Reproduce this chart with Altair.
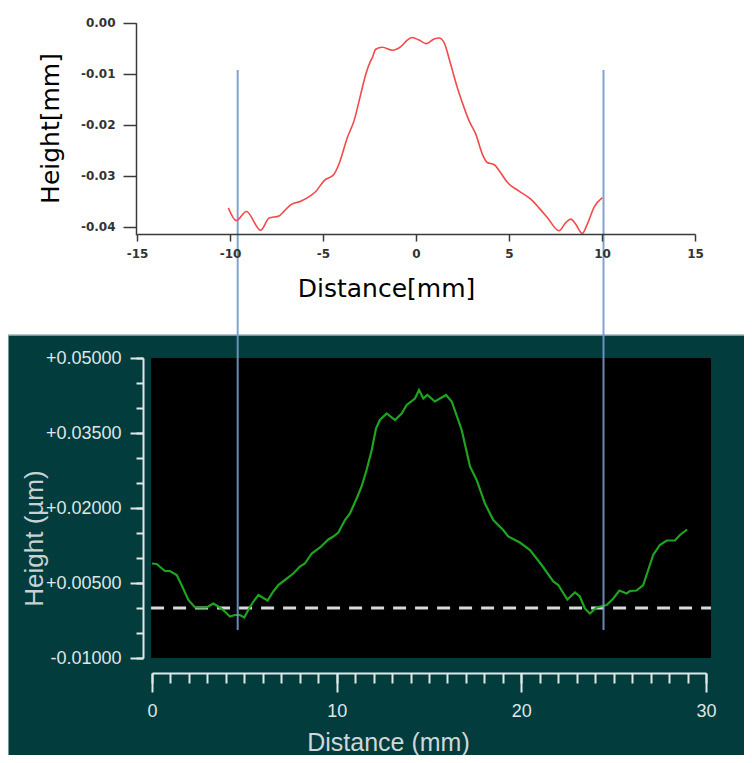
import altair as alt
import pandas as pd

# ---------------- data ----------------
# upper profile (Distance [mm], Height [mm])
top_distance = [-10.09, -9.66, -9.12, -8.35, -7.9, -7.37, -7.1, -6.74, -6.2, -5.66, -5.39, -4.95,
                -4.41, -4.14, -3.69, -3.33, -2.97, -2.7, -2.44, -2.34, -2.17, -1.81, -1.27, -0.82,
                -0.47, -0.2, 0.16, 0.56, 0.97, 1.24, 1.51, 1.86, 2.22, 2.58, 2.85, 3.21, 3.57,
                3.83, 4.19, 4.55, 4.91, 5.54, 6.17, 6.61, 7.06, 7.69, 8.05, 8.32, 8.59, 8.94,
                9.21, 9.57, 10.02]
top_height = [-0.0363, -0.0388, -0.0370, -0.0407, -0.0383, -0.0379, -0.0370, -0.0357, -0.0350,
              -0.0339, -0.0331, -0.0310, -0.0297, -0.0277, -0.0225, -0.0192, -0.0140, -0.0101,
              -0.0075, -0.0068, -0.0052, -0.0048, -0.0054, -0.0047, -0.0034, -0.0029, -0.0034,
              -0.0041, -0.0032, -0.0030, -0.0039, -0.0081, -0.0127, -0.0166, -0.0192, -0.0218,
              -0.0258, -0.0274, -0.0278, -0.0294, -0.0313, -0.0330, -0.0346, -0.0363, -0.0382,
              -0.0408, -0.0392, -0.0385, -0.0395, -0.0413, -0.0395, -0.0362, -0.0343]

# lower profile (Distance (mm), Height)
bottom_distance = [0.0, 0.25, 0.70, 0.97, 1.34, 1.60, 1.97, 2.33, 2.96, 3.32, 3.59, 3.86, 4.22,
                   4.49, 4.76, 5.00, 5.21, 5.49, 5.76, 6.26, 6.57, 6.84, 7.20, 7.65, 8.01, 8.28,
                   8.65, 9.10, 9.55, 9.82, 10.09, 10.45, 10.72, 11.08, 11.35, 11.62, 11.90, 12.13,
                   12.34, 12.71, 13.16, 13.52, 13.79, 14.24, 14.46, 14.69, 14.91, 15.32, 15.92,
                   16.23, 16.77, 17.22, 17.58, 18.03, 18.48, 19.02, 19.29, 19.92, 20.47, 21.10,
                   21.73, 22.00, 22.49, 22.90, 23.17, 23.44, 23.71, 24.08, 24.62, 24.98, 25.31,
                   25.70, 25.88, 26.24, 26.60, 26.87, 27.14, 27.50, 27.87, 28.32, 28.59, 28.98]
bottom_height = [0.0089, 0.0088, 0.0074, 0.0074, 0.0066, 0.0046, 0.0016, 0.0001, 0.0001, 0.0009,
                 0.0003, -0.0004, -0.0017, -0.0014, -0.0014, -0.0019, -0.0004, 0.0013, 0.0026,
                 0.0015, 0.0033, 0.0046, 0.0056, 0.0069, 0.0083, 0.0089, 0.0109, 0.0121, 0.0137,
                 0.0143, 0.0151, 0.0176, 0.0189, 0.0219, 0.0243, 0.0276, 0.0316, 0.0359, 0.0376,
                 0.0389, 0.0376, 0.0389, 0.0406, 0.0419, 0.0436, 0.0419, 0.0426, 0.0413, 0.0426,
                 0.0413, 0.0356, 0.0283, 0.0256, 0.0209, 0.0176, 0.0156, 0.0143, 0.0131, 0.0116,
                 0.0086, 0.0053, 0.0046, 0.0017, 0.0031, 0.0023, -0.0001, -0.0011, 0.0001,
                 0.0006, 0.0019, 0.0035, 0.0029, 0.0034, 0.0035, 0.0046, 0.0076, 0.0106, 0.0126,
                 0.0135, 0.0135, 0.0146, 0.0157]

# marker positions (lower chart distance, mm)
marker_distance = [4.64, 24.45]
reference_level = [0.0]

top_x_ticks = [-15, -10, -5, 0, 5, 10, 15]
top_y_ticks = [0.0, -0.01, -0.02, -0.03, -0.04]
bot_x_ticks = [0, 10, 20, 30]
bot_x_minor = list(range(0, 31))
bot_y_ticks = [-0.01, 0.005, 0.02, 0.035, 0.05]
bot_y_minor = [-0.01, -0.005, 0.0, 0.005, 0.01, 0.015, 0.02, 0.025, 0.03, 0.035, 0.04, 0.045, 0.05]

# ---------------- layout (canvas pixels) ----------------
W, H = 736, 747
TEAL = "#023c3d"
LIGHT = "#dfe7e7"

top_df = pd.DataFrame({"d": top_distance, "h": top_height})
bot_df = pd.DataFrame({"d": bottom_distance, "h": bottom_height})
mark_df = pd.DataFrame({"m": marker_distance})
one = pd.DataFrame({"k": [0]})

# scales
tx = alt.Scale(domain=[-15, 15], range=[129, 687], nice=False, zero=False)
ty = alt.Scale(domain=[-0.0416, 0.0], range=[226.9, 14.7], nice=False, zero=False)
bx = alt.Scale(domain=[0, 30], range=[144, 698], nice=False, zero=False)
by = alt.Scale(domain=[-0.01, 0.05], range=[650, 350], nice=False, zero=False)

common = dict(grid=False, labelFlush=False, labelOverlap=False, zindex=1)

# ---- top chart ----
top_x_axis = alt.Axis(orient="bottom", offset=226 - H, values=top_x_ticks,
                      labelExpr="(datum.value < 0 ? '-' : '') + abs(datum.value)",
                      tickSize=7, labelPadding=7, domainColor="#3a3a3a", tickColor="#3a3a3a",
                      domainWidth=1.5, tickWidth=1.5, labelFont="DejaVu Sans", labelFontSize=12,
                      labelFontWeight="bold", labelColor="#333333",
                      title="Distance[mm]", titleFont="DejaVu Sans", titleFontSize=25,
                      titleFontWeight="normal", titleColor="#000000", titleX=378, titleY=62,
                      titleBaseline="alphabetic", titleAlign="center", **common)
top_y_axis = alt.Axis(orient="left", offset=-128, values=top_y_ticks,
                      labelExpr="(datum.value < 0 ? '-' : '') + format(abs(datum.value), '.2f')",
                      tickSize=13, labelPadding=8, domainColor="#3a3a3a", tickColor="#3a3a3a",
                      domainWidth=1.5, tickWidth=1.5, labelFont="DejaVu Sans", labelFontSize=12,
                      labelFontWeight="bold", labelColor="#333333",
                      title="Height[mm]", titleFont="DejaVu Sans", titleFontSize=25,
                      titleFontWeight="normal", titleColor="#000000", titleAngle=270,
                      titleX=-86, titleY=120, titleBaseline="middle", titleAlign="center", **common)

top_line = alt.Chart(top_df).mark_line(color="#f24a4a", strokeWidth=1.6, interpolate="monotone").encode(
    x=alt.X("d:Q", scale=tx, axis=top_x_axis),
    y=alt.Y("h:Q", scale=ty, axis=top_y_axis),
)

# ---- bottom chart ----
teal = alt.Chart(one).mark_rect(fill=TEAL, stroke="#9fb4bd", strokeWidth=1.5).encode(
    x=alt.value(0), x2=alt.value(W + 5), y=alt.value(327), y2=alt.value(H + 5)
)

bx_minor_axis = alt.Axis(orient="bottom", offset=665 - H, values=bot_x_minor, labels=False,
                         domain=False, tickSize=10, tickWidth=2, tickColor=LIGHT, title=None, **common)
by_minor_axis = alt.Axis(orient="left", offset=-135, values=bot_y_minor, labels=False,
                         domain=False, tickSize=7, tickWidth=2, tickColor=LIGHT, title=None, **common)

black = alt.Chart(one).mark_rect(fill="black").encode(
    x=alt.XDatum(-0.05, type="quantitative", scale=bx, axis=bx_minor_axis),
    x2=alt.X2Datum(30.27),
    y=alt.YDatum(-0.01, type="quantitative", scale=by, axis=by_minor_axis),
    y2=alt.Y2Datum(0.05),
)

dashed = alt.Chart(pd.DataFrame({"z": reference_level})).mark_rule(
    color="#d9d9d9", strokeWidth=3, strokeDash=[13, 9]).encode(
    x=alt.XDatum(-0.05, type="quantitative", scale=bx, axis=None),
    x2=alt.X2Datum(30.27),
    y=alt.Y("z:Q", scale=by, axis=None),
)

bx_axis = alt.Axis(orient="bottom", offset=665 - H, values=bot_x_ticks, tickSize=19, tickWidth=2,
                   labelPadding=10, domainColor=LIGHT, domainWidth=2, tickColor=LIGHT,
                   labelFont="Liberation Sans", labelFontSize=18, labelColor=LIGHT,
                   title="Distance (mm)", titleFont="Liberation Sans", titleFontSize=25,
                   titleFontWeight="normal", titleColor="#cfd8d8", titleX=380, titleY=77,
                   titleBaseline="alphabetic", titleAlign="center", **common)
by_axis = alt.Axis(orient="left", offset=-135, values=bot_y_ticks,
                   labelExpr="(datum.value < 0 ? '-' : '+') + format(abs(datum.value), '.5f')",
                   tickSize=13, tickWidth=2, labelPadding=9, domainColor=LIGHT, domainWidth=2,
                   tickColor=LIGHT, labelFont="Liberation Sans", labelFontSize=18, labelColor=LIGHT,
                   title="Height (µm)", titleFont="Liberation Sans", titleFontSize=26,
                   titleFontWeight="normal", titleColor="#c8d2d2", titleAngle=270,
                   titleX=-109, titleY=530, titleBaseline="middle", titleAlign="center", **common)

green = alt.Chart(bot_df).mark_line(color="#1fa41f", strokeWidth=2.2).encode(
    x=alt.X("d:Q", scale=bx, axis=bx_axis),
    y=alt.Y("h:Q", scale=by, axis=by_axis),
)

markers = alt.Chart(mark_df).mark_rule(color="#7499cc", strokeWidth=2, opacity=0.9).encode(
    x=alt.X("m:Q", scale=bx, axis=None),
    y=alt.value(62), y2=alt.value(622),
)

bottom = alt.layer(black, dashed, green, markers).resolve_axis(x="independent", y="independent")

chart = alt.layer(teal, bottom, top_line).resolve_scale(
    x="independent", y="independent"
).properties(
    width=W, height=H, padding=0, background="white",
    autosize=alt.AutoSizeParams(type="none"),
).configure_view(strokeWidth=0)

chart.save("out.html", embed_options={"renderer": "svg", "actions": False})
